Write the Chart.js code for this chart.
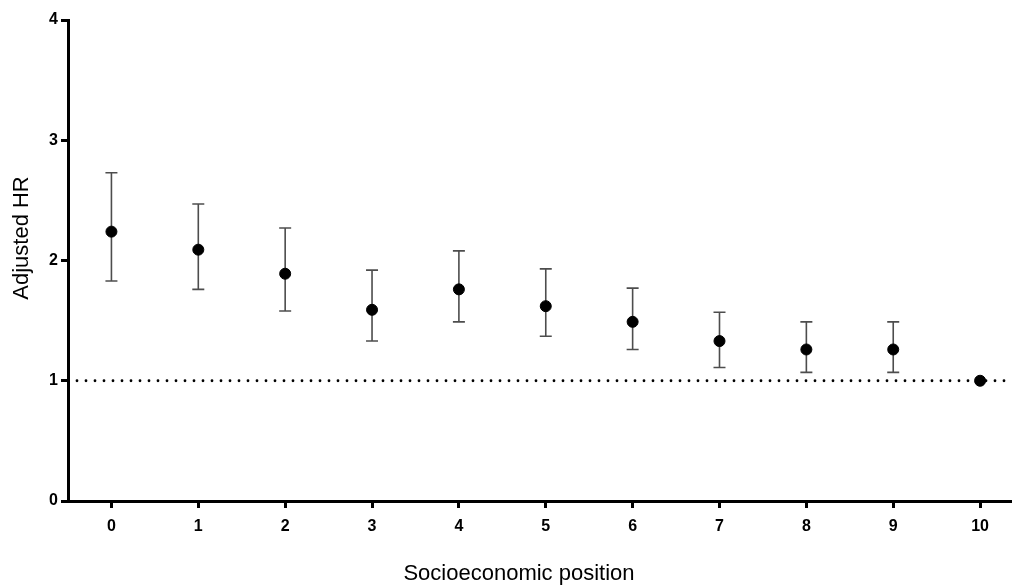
<!DOCTYPE html>
<html>
<head>
<meta charset="utf-8">
<script src="https://cdn.jsdelivr.net/npm/chart.js@4"></script>
<style>
  html, body { margin: 0; padding: 0; background: #fff; overflow: hidden; }
  #wrap { width: 1017px; height: 588px; }
</style>
</head>
<body>
<div id="wrap"><canvas id="grafico"></canvas></div>
<script>
// dados
const posicoes = [0, 1, 2, 3, 4, 5, 6, 7, 8, 9, 10];
const hrAjustado = [2.24, 2.09, 1.89, 1.59, 1.76, 1.62, 1.49, 1.33, 1.26, 1.26, 1.00];
const icSuperior = [2.73, 2.47, 2.27, 1.92, 2.08, 1.93, 1.77, 1.57, 1.49, 1.49, null];
const icInferior = [1.83, 1.76, 1.58, 1.33, 1.49, 1.37, 1.26, 1.11, 1.07, 1.07, null];
const yTicks = [0, 1, 2, 3, 4];
const linhaRef = 1;
const xMin = -0.5;
const xMax = 10.35;
const tituloX = 'Socioeconomic position';
const tituloY = 'Adjusted HR';

const fonte = "'Liberation Sans', Arial, sans-serif";

// plugin para desenhar as barras de erro
const barrasErro = {
    id: 'barrasErro',
    beforeDatasetsDraw(chart) {
        const ctx = chart.ctx;
        const x = chart.scales.x;
        const y = chart.scales.y;
        ctx.save();
        ctx.strokeStyle = '#4d4d4d';
        ctx.lineWidth = 1.6;
        posicoes.forEach((p, i) => {
            if (icSuperior[i] == null) return;
            const px = x.getPixelForValue(p);
            const top = y.getPixelForValue(icSuperior[i]);
            const bot = y.getPixelForValue(icInferior[i]);
            ctx.beginPath();
            ctx.moveTo(px, top); ctx.lineTo(px, bot);
            ctx.moveTo(px - 6, top); ctx.lineTo(px + 6, top);
            ctx.moveTo(px - 6, bot); ctx.lineTo(px + 6, bot);
            ctx.stroke();
        });
        ctx.restore();
    }
};

// títulos dos eixos (deslocados como no original)
const titulos = {
    id: 'titulos',
    afterDraw(chart) {
        const ctx = chart.ctx;
        ctx.save();
        ctx.fillStyle = '#000';
        ctx.font = '22px ' + fonte;
        ctx.textAlign = 'center';
        ctx.textBaseline = 'middle';
        ctx.fillText(tituloX, 519, 574);
        ctx.translate(22, 238);
        ctx.rotate(-Math.PI / 2);
        ctx.fillText(tituloY, 0, 0);
        ctx.restore();
    }
};

new Chart(document.getElementById('grafico'), {
    type: 'scatter',
    data: {
        datasets: [{
            label: 'Referência',
            type: 'line',
            data: [{ x: xMin, y: linhaRef }, { x: xMax, y: linhaRef }],
            borderColor: '#000',
            borderWidth: 2.8,
            borderDash: [0, 9],
            borderCapStyle: 'round',
            pointRadius: 0,
            order: 2
        }, {
            label: 'HR ajustado',
            data: posicoes.map((p, i) => ({ x: p, y: hrAjustado[i] })),
            backgroundColor: '#000',
            borderColor: '#000',
            pointRadius: 5.5,
            order: 1
        }]
    },
    options: {
        responsive: true,
        maintainAspectRatio: false,
        animation: false,
        layout: { padding: { top: 20, right: 0, left: 0, bottom: 0 } },
        plugins: {
            legend: { display: false },
            tooltip: { enabled: false }
        },
        scales: {
            x: {
                type: 'linear',
                min: xMin,
                max: xMax,
                afterBuildTicks: function(scale) {
                    scale.ticks = posicoes.map(v => ({ value: v }));
                },
                afterFit: function(scale) {
                    scale.height = 87;
                    scale.paddingLeft = 0;
                    scale.paddingRight = 0;
                },
                border: { display: true, color: '#000', width: 3 },
                grid: { drawOnChartArea: false, drawTicks: true, tickLength: 7, tickColor: '#000', lineWidth: 3 },
                ticks: {
                    color: '#000',
                    font: { family: fonte, size: 16, weight: 'bold' },
                    padding: 9,
                    maxRotation: 0
                }
            },
            y: {
                min: 0,
                max: 4,
                afterBuildTicks: function(scale) {
                    scale.ticks = yTicks.map(v => ({ value: v }));
                },
                afterFit: function(scale) {
                    scale.width = 68;
                    scale.paddingTop = 0;
                    scale.paddingBottom = 0;
                },
                border: { display: true, color: '#000', width: 3 },
                grid: { drawOnChartArea: false, drawTicks: true, tickLength: 7, tickColor: '#000', lineWidth: 3 },
                ticks: {
                    color: '#000',
                    font: { family: fonte, size: 16, weight: 'bold' },
                    padding: 3
                }
            }
        }
    },
    plugins: [barrasErro, titulos]
});
</script>
</body>
</html>
